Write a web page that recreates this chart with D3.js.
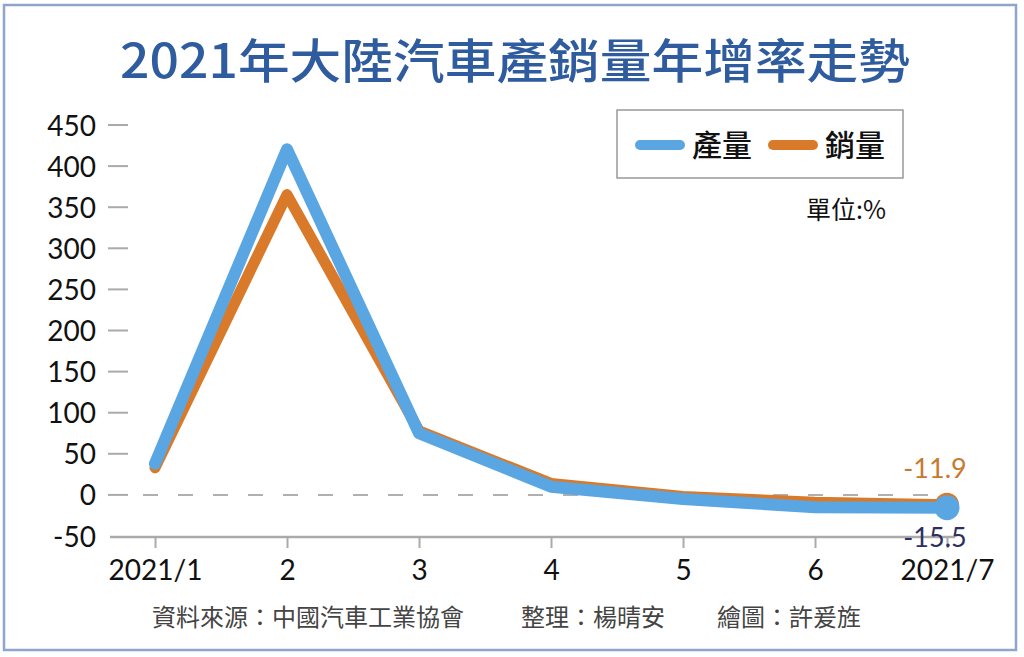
<!DOCTYPE html>
<html><head><meta charset="utf-8">
<script src="https://cdn.jsdelivr.net/npm/d3@7"></script>
<style>
html,body{margin:0;padding:0;background:#fff;}
svg{display:block;}
</style>
</head><body>
<svg id="c" width="1024" height="657"></svg>
<script>
const months = ["2021/1","2","3","4","5","6","2021/7"];
const production = [38, 420.4, 75, 10, -5, -15, -15.5];
const sales = [33, 365.3, 78, 14, -2, -9, -11.9];
const yTicks = [-50,0,50,100,150,200,250,300,350,400,450];
const seriesNames = ["產量","銷量"];
const title = "2021年大陸汽車產銷量年增率走勢";
const unitLabel = "單位:%";
const footer = ["資料來源：中國汽車工業協會","整理：楊晴安","繪圖：許爰旌"];

const BLUE = "#5aa6e2", ORANGE = "#d97a2b";
const CJK = "'Noto Sans CJK TC','Noto Sans',sans-serif";
const NUM = "Lato,'Noto Sans',sans-serif";
const fmt = v => String(v); // plain hyphen-minus like the reference

const svg = d3.select("#c");
// frame
svg.append("rect").attr("x",4).attr("y",5).attr("width",1012).attr("height",645)
  .attr("fill","#fff").attr("stroke","#8fa6cc").attr("stroke-width",2.5);

// title
svg.append("text").attr("x",515).attr("y",78).attr("text-anchor","middle")
  .attr("font-family",CJK).attr("font-size",47).attr("font-weight",500)
  .attr("fill","#2f5c9f").attr("textLength",790).attr("lengthAdjust","spacingAndGlyphs")
  .text(title);

const x = d3.scalePoint().domain(months).range([155,947]);
const y = d3.scaleLinear().domain([-50,450]).range([536,125]);

// y axis labels & ticks
const yAxis = d3.axisLeft(y).tickValues(yTicks).tickSize(0).tickPadding(0).tickFormat(fmt);
const gy = svg.append("g").attr("transform","translate(96,0)").call(yAxis);
gy.select(".domain").remove();
gy.selectAll("text").attr("font-family",NUM).attr("font-size",28).attr("fill","#111").attr("dy","0.36em");
svg.append("g").selectAll("line").data(yTicks.filter(d=>d!==-50)).join("line")
  .attr("x1",108).attr("x2",128).attr("y1",d=>y(d)).attr("y2",d=>y(d))
  .attr("stroke","#aaa").attr("stroke-width",2);

// zero dashed line
svg.append("line").attr("x1",143).attr("x2",945).attr("y1",y(0)).attr("y2",y(0))
  .attr("stroke","#b0b0b0").attr("stroke-width",2).attr("stroke-dasharray","15,20");

// x axis
const xAxis = d3.axisBottom(x).tickSize(11).tickPadding(12);
const gx = svg.append("g").attr("transform",`translate(0,${y(-50)+1})`).call(xAxis);
gx.select(".domain").attr("d",`M110,0H955`).attr("stroke","#aaa").attr("stroke-width",2.5);
gx.selectAll(".tick line").attr("stroke","#aaa").attr("stroke-width",2);
gx.selectAll("text").attr("font-family",NUM).attr("font-size",28).attr("fill","#111");

// lines
const line = d3.line().x((d,i)=>x(months[i])).y(d=>y(d));
svg.append("path").datum(sales).attr("d",line).attr("fill","none")
  .attr("stroke",ORANGE).attr("stroke-width",11).attr("stroke-linejoin","round").attr("stroke-linecap","round");
svg.append("circle").attr("cx",x(months[6])).attr("cy",y(sales[6])).attr("r",12).attr("fill",ORANGE);
svg.append("path").datum(production).attr("d",line).attr("fill","none")
  .attr("stroke",BLUE).attr("stroke-width",12).attr("stroke-linejoin","round").attr("stroke-linecap","round");
svg.append("circle").attr("cx",x(months[6])).attr("cy",y(production[6])).attr("r",12.5).attr("fill",BLUE);

// end labels
svg.append("text").attr("x",x(months[6])-12).attr("y",y(sales[6])-27).attr("text-anchor","middle")
  .attr("font-family",NUM).attr("font-size",27).attr("fill","#c77a2e").text(fmt(sales[6]));
svg.append("text").attr("x",x(months[6])-12).attr("y",y(production[6])+39).attr("text-anchor","middle")
  .attr("font-family",NUM).attr("font-size",27).attr("fill","#2e2f60").text(fmt(production[6]));

// legend
svg.append("rect").attr("x",617).attr("y",110).attr("width",286).attr("height",68)
  .attr("fill","#fff").attr("stroke","#999").attr("stroke-width",1.5);
const leg = [{n:seriesNames[0],c:BLUE,x:640},{n:seriesNames[1],c:ORANGE,x:773}];
leg.forEach(l=>{
  svg.append("line").attr("x1",l.x).attr("x2",l.x+40).attr("y1",145).attr("y2",145)
    .attr("stroke",l.c).attr("stroke-width",10).attr("stroke-linecap","round");
  svg.append("text").attr("x",l.x+52).attr("y",156).attr("font-family",CJK).attr("font-size",30)
    .attr("font-weight",500).attr("fill","#111").text(l.n);
});
svg.append("text").attr("x",886).attr("y",219).attr("text-anchor","end").attr("font-family",CJK)
  .attr("font-size",25).attr("fill","#111").text(unitLabel);

// footer
const fx = [152,521,717];
footer.forEach((t,i)=>{
  svg.append("text").attr("x",fx[i]).attr("y",626).attr("font-family",CJK).attr("font-size",24)
    .attr("fill","#444").text(t);
});
</script>
</body></html>
